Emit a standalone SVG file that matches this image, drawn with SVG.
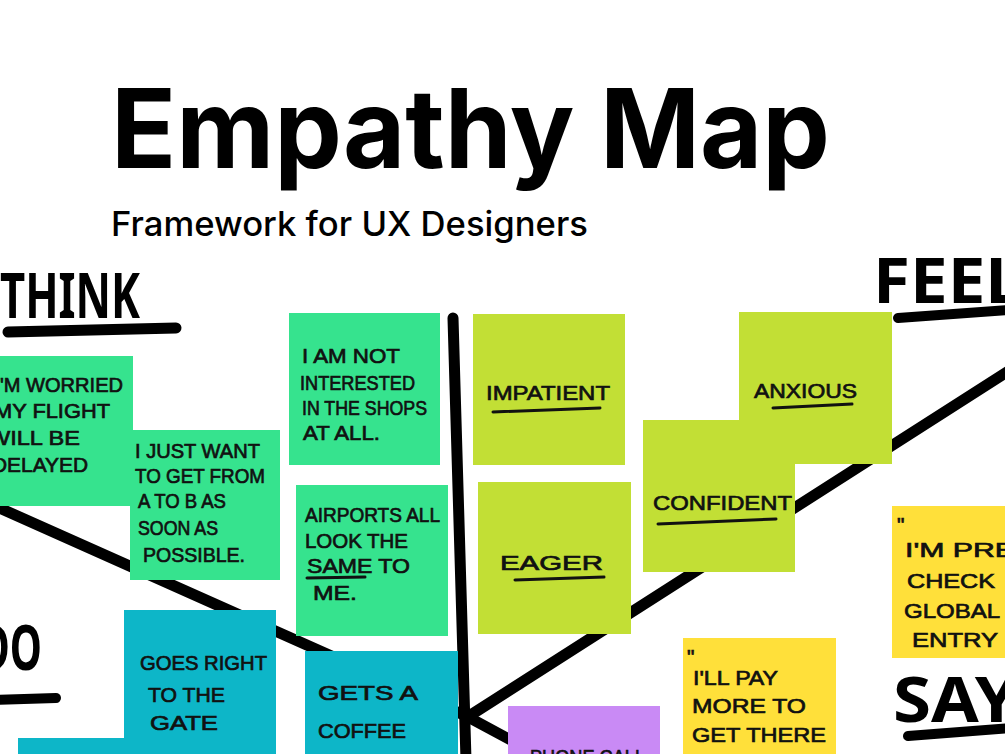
<svg xmlns="http://www.w3.org/2000/svg" width="1005" height="754" viewBox="0 0 1005 754">
<style>
.title{font-family:Inter,"Liberation Sans",sans-serif;font-weight:700;fill:#000}
.sub{font-family:Inter,"Liberation Sans",sans-serif;font-weight:500;fill:#000}
.hand{font-family:"Liberation Sans",Arial,sans-serif;font-weight:400;fill:#111;stroke:#111;stroke-width:0.7;font-size:21px}
.big{font-family:"Noto Sans","DejaVu Sans",sans-serif;font-weight:700;fill:#000;font-size:62px}
.green{fill:#36E38E}
.lime{fill:#C2DF35}
.blue{fill:#0DB6C8}
.yellow{fill:#FFE03A}
.purple{fill:#C98AF5}
.rule{stroke:#000;stroke-linecap:round;fill:none}
.ul{stroke:#111;stroke-width:3;stroke-linecap:round;fill:none}
</style>
<rect width="1005" height="754" fill="#fff"/>
<g id="title">
<text class="title" x="111" y="168" font-size="110" textLength="719" lengthAdjust="spacingAndGlyphs">Empathy Map</text>
<text class="sub" x="111" y="236" font-size="34" textLength="477" lengthAdjust="spacingAndGlyphs">Framework for UX Designers</text>
</g>
<g id="connectors">
<path class="rule" stroke-width="11" d="M453 318 L466 760"/>
<path class="rule" stroke-width="11" d="M-5 506 L466 716 L520 745"/>
<path class="rule" stroke-width="11" d="M466 718 L1010 370"/>
<path class="rule" stroke-width="11" d="M8 332 L176 328"/>
<path class="rule" stroke-width="10" d="M898 318 L1010 310"/>
<path class="rule" stroke-width="10" d="M908 736 L1010 728"/>
<path class="rule" stroke-width="10" d="M-5 700 L56 698"/>
</g>
<g id="label-think"><text class="big" x="0" y="318" textLength="140" lengthAdjust="spacingAndGlyphs">THINK</text></g>
<g id="label-feel"><text class="big" x="873" y="303" textLength="150" lengthAdjust="spacingAndGlyphs">FEEL</text></g>
<g id="label-say"><text class="big" x="893" y="722" textLength="125" lengthAdjust="spacingAndGlyphs">SAY</text></g>
<g id="label-do"><text class="big" x="-20" y="670" textLength="62" lengthAdjust="spacingAndGlyphs">DO</text></g>

<g id="note-worried">
<rect class="green" x="-5" y="356" width="138" height="150"/>
<text class="hand" x="0" y="392" textLength="123" lengthAdjust="spacingAndGlyphs">'M WORRIED</text>
<text class="hand" x="-6" y="418" textLength="116" lengthAdjust="spacingAndGlyphs">MY FLIGHT</text>
<text class="hand" x="-12" y="445" textLength="92" lengthAdjust="spacingAndGlyphs">WILL BE</text>
<text class="hand" x="-8" y="472" textLength="96" lengthAdjust="spacingAndGlyphs">DELAYED</text>
</g>
<g id="note-atob">
<rect class="green" x="130" y="430" width="150" height="150"/>
<text class="hand" x="135" y="458" textLength="125" lengthAdjust="spacingAndGlyphs">I JUST WANT</text>
<text class="hand" x="135" y="483" textLength="130" lengthAdjust="spacingAndGlyphs">TO GET FROM</text>
<text class="hand" x="138" y="508" textLength="88" lengthAdjust="spacingAndGlyphs">A TO B AS</text>
<text class="hand" x="138" y="535" textLength="80" lengthAdjust="spacingAndGlyphs">SOON AS</text>
<text class="hand" x="143" y="562" textLength="102" lengthAdjust="spacingAndGlyphs">POSSIBLE.</text>
</g>
<g id="note-shops">
<rect class="green" x="289" y="313" width="151" height="152"/>
<text class="hand" x="302" y="363" textLength="98" lengthAdjust="spacingAndGlyphs">I AM NOT</text>
<text class="hand" x="300" y="390" textLength="115" lengthAdjust="spacingAndGlyphs">INTERESTED</text>
<text class="hand" x="302" y="415" textLength="125" lengthAdjust="spacingAndGlyphs">IN THE SHOPS</text>
<text class="hand" x="303" y="440" textLength="77" lengthAdjust="spacingAndGlyphs">AT ALL.</text>
</g>
<g id="note-airports">
<rect class="green" x="296" y="485" width="152" height="151"/>
<text class="hand" x="305" y="522" textLength="135" lengthAdjust="spacingAndGlyphs">AIRPORTS ALL</text>
<text class="hand" x="305" y="548" textLength="103" lengthAdjust="spacingAndGlyphs">LOOK THE</text>
<text class="hand" x="307" y="573" textLength="103" lengthAdjust="spacingAndGlyphs">SAME TO</text>
<path class="ul" d="M307 578 L365 577"/>
<text class="hand" x="313" y="600" textLength="44" lengthAdjust="spacingAndGlyphs">ME.</text>
</g>
<g id="note-impatient">
<rect class="lime" x="473" y="314" width="152" height="151"/>
<text class="hand" x="486" y="400" font-size="25" textLength="124" lengthAdjust="spacingAndGlyphs">IMPATIENT</text>
<path class="ul" d="M493 412 L600 408"/>
</g>
<g id="note-eager">
<rect class="lime" x="478" y="482" width="153" height="152"/>
<text class="hand" x="500" y="570" font-size="25" textLength="103" lengthAdjust="spacingAndGlyphs">EAGER</text>
<path class="ul" d="M515 580 L604 577"/>
</g>
<g id="note-anxious">
<rect class="lime" x="739" y="312" width="153" height="152"/>
<text class="hand" x="754" y="398" font-size="25" textLength="103" lengthAdjust="spacingAndGlyphs">ANXIOUS</text>
<path class="ul" d="M773 408 L852 404"/>
</g>
<g id="note-confident">
<rect class="lime" x="643" y="420" width="152" height="152"/>
<text class="hand" x="653" y="510" font-size="25" textLength="139" lengthAdjust="spacingAndGlyphs">CONFIDENT</text>
<path class="ul" d="M658 524 L776 519"/>
</g>
<g id="note-global">
<rect class="yellow" x="892" y="506" width="120" height="152"/>
<text class="hand" x="897" y="532">"</text>
<text class="hand" x="905" y="557" textLength="110" lengthAdjust="spacingAndGlyphs">I'M PRE</text>
<text class="hand" x="907" y="588" textLength="88" lengthAdjust="spacingAndGlyphs">CHECK</text>
<text class="hand" x="904" y="618" textLength="96" lengthAdjust="spacingAndGlyphs">GLOBAL</text>
<text class="hand" x="912" y="647" textLength="86" lengthAdjust="spacingAndGlyphs">ENTRY</text>
</g>
<g id="note-pay">
<rect class="yellow" x="683" y="638" width="153" height="130"/>
<text class="hand" x="687" y="664">"</text>
<text class="hand" x="693" y="685" textLength="85" lengthAdjust="spacingAndGlyphs">I'LL PAY</text>
<text class="hand" x="692" y="713" textLength="114" lengthAdjust="spacingAndGlyphs">MORE TO</text>
<text class="hand" x="692" y="742" textLength="134" lengthAdjust="spacingAndGlyphs">GET THERE</text>
</g>
<g id="note-blue-low">
<rect class="blue" x="18" y="738" width="160" height="40"/>
</g>
<g id="note-gate">
<rect class="blue" x="124" y="610" width="152" height="160"/>
<text class="hand" x="140" y="670" font-size="23" textLength="127" lengthAdjust="spacingAndGlyphs">GOES RIGHT</text>
<text class="hand" x="148" y="702" font-size="23" textLength="77" lengthAdjust="spacingAndGlyphs">TO THE</text>
<text class="hand" x="150" y="730" font-size="23" textLength="68" lengthAdjust="spacingAndGlyphs">GATE</text>
</g>
<g id="note-coffee">
<rect class="blue" x="305" y="651" width="153" height="120"/>
<text class="hand" x="318" y="700" font-size="27" textLength="100" lengthAdjust="spacingAndGlyphs">GETS A</text>
<text class="hand" x="318" y="738" font-size="27" textLength="88" lengthAdjust="spacingAndGlyphs">COFFEE</text>
</g>
<g id="note-phone">
<rect class="purple" x="508" y="706" width="152" height="60"/>
<text class="hand" x="530" y="764" font-size="27" textLength="115" lengthAdjust="spacingAndGlyphs">PHONE CALL</text>
</g>
</svg>
